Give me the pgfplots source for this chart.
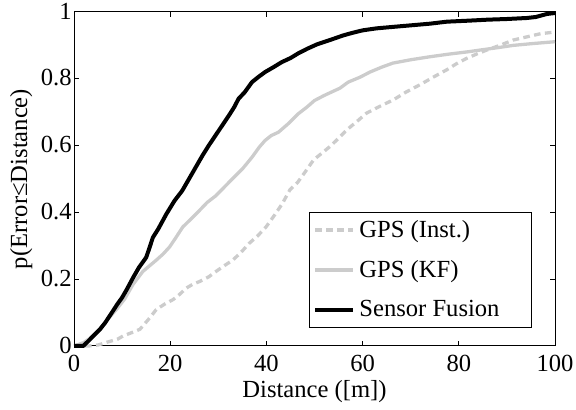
\documentclass[border=0pt]{standalone}
\usepackage{pgfplots}
\pgfplotsset{compat=1.18}
\usepackage{fontspec}
\setmainfont{Liberation Serif}
\definecolor{lgray}{rgb}{0.8,0.8,0.8}
\begin{document}
\begin{tikzpicture}[font=\fontsize{12.3}{14}\selectfont]
\path[use as bounding box] (-37pt,-32pt) rectangle (251pt,173pt);
\begin{axis}[
  at={(0pt,0pt)}, anchor=south west,
  width=240.5pt, height=167pt, scale only axis,
  xmin=0, xmax=100, ymin=0, ymax=1,
  xtick={0,20,40,60,80,100},
  ytick={0,0.2,0.4,0.6,0.8,1},
  xtick pos=both, ytick pos=both,
  tick align=inside,
  major tick length=2.4pt,
  axis line style={line width=0.5pt},
  every tick/.style={black, line width=0.5pt},
  /pgf/number format/assume math mode=true,
  ticklabel style={font=\rmfamily\fontsize{12.3}{14}\selectfont},
  yticklabel style={inner xsep=1pt, inner ysep=0pt, yshift=0.5pt},
  xticklabel style={inner xsep=2pt, inner ysep=0pt, yshift=-4.6pt},
  xlabel={Distance ([m])},
  ylabel={p(Error≤Distance)},
  xlabel style={at={(axis description cs:0.5,0)}, anchor=base, yshift=-26pt, inner sep=0pt},
  ylabel style={at={(axis description cs:-0.110,0.5)}, anchor=center, inner sep=0pt},
  label style={font=\fontsize{12.3}{14}\selectfont},
  legend image code/.code={\draw[#1] (0pt,0pt) -- (19pt,0pt);},
  legend style={at={(0.952,0.054)}, anchor=south east, draw=black, line width=0.5pt,
    fill=white, inner xsep=2pt, inner ysep=2pt, row sep=6pt,
    nodes={inner sep=2pt}, font=\fontsize{12.3}{14}\selectfont},
  legend cell align=left,
  clip=false,
]
\addplot[lgray, line width=1.65pt, dash pattern=on 3.3pt off 2.2pt] coordinates {
(0,0)(3,0)(5,0.003)(7,0.012)(9,0.02)(10.2,0.03)(12,0.04)(13.7,0.05)(15.5,0.08)(17.1,0.109)
(18.8,0.125)(20.6,0.139)(22,0.155)(23.3,0.173)(24.7,0.185)(26.1,0.193)(28,0.207)(29.5,0.223)
(31.2,0.24)(33,0.257)(34.7,0.28)(36.4,0.307)(38.2,0.33)(39.9,0.356)(41.6,0.39)(43.3,0.426)
(44.9,0.468)(46.5,0.49)(48,0.52)(49.8,0.557)(51.5,0.577)(53.2,0.597)(55,0.622)(56.7,0.647)
(58.8,0.672)(60.8,0.697)(63.5,0.717)(66.4,0.737)(69,0.76)(71.9,0.782)(74.7,0.805)(77.5,0.827)
(79.5,0.845)(81.6,0.861)(83.7,0.874)(85.8,0.886)(88.5,0.90)(91.3,0.916)(94,0.925)(97,0.935)(100,0.94)
};
\addlegendentry{\makebox[82pt][l]{GPS (Inst.)}}
\addplot[lgray, line width=1.65pt] coordinates {
(0,0)(1,0.005)(2,0.01)(3.5,0.025)(5.4,0.05)(7,0.08)(8.8,0.109)(10.5,0.14)(12.3,0.185)(14.3,0.223)
(15.7,0.24)(17.1,0.257)(18.5,0.275)(19.9,0.297)(21.2,0.325)(22.6,0.356)(24.3,0.38)(26.1,0.406)
(27.7,0.43)(29.5,0.45)(31.2,0.475)(32.9,0.50)(35,0.53)(37,0.565)(38.5,0.595)(39.7,0.615)(41,0.63)
(42.5,0.64)(44.5,0.665)(46.6,0.695)(48.4,0.715)(50,0.735)(52,0.75)(55.3,0.772)(57,0.79)(59.5,0.805)
(61.5,0.82)(64,0.835)(66.3,0.847)(70,0.857)(74,0.866)(78,0.874)(82,0.881)(84.4,0.886)(88,0.893)
(91.3,0.90)(95,0.905)(100,0.911)
};
\addlegendentry{\makebox[82pt][l]{GPS (KF)}}
\addplot[black, line width=2pt] coordinates {
(0,0)(1,0)(1.9,0.0)(3,0.015)(4,0.03)(5.4,0.05)(6.5,0.07)(8.1,0.105)(9,0.125)(10,0.145)(11,0.17)
(12.3,0.205)(13.5,0.235)(15,0.265)(15.6,0.29)(16.4,0.325)(17.5,0.35)(19.2,0.395)(20.9,0.435)
(22.5,0.465)(23.9,0.50)(25.3,0.535)(26.7,0.57)(28,0.60)(29.4,0.63)(30.8,0.66)(32.2,0.69)
(33.3,0.715)(34.2,0.74)(35.5,0.76)(37,0.79)(38.3,0.805)(39.7,0.82)(41.5,0.835)(43.2,0.85)
(45,0.862)(46.6,0.876)(48.5,0.89)(50.5,0.903)(53.2,0.916)(56,0.93)(58,0.938)(60,0.945)
(62.9,0.951)(66,0.955)(70,0.96)(74,0.965)(77.5,0.971)(82,0.974)(86,0.977)(90,0.979)
(94.1,0.982)(96,0.985)(98.3,0.994)(100,0.997)
};
\addlegendentry{\makebox[82pt][l]{Sensor Fusion}}
\end{axis}
\end{tikzpicture}
\end{document}
